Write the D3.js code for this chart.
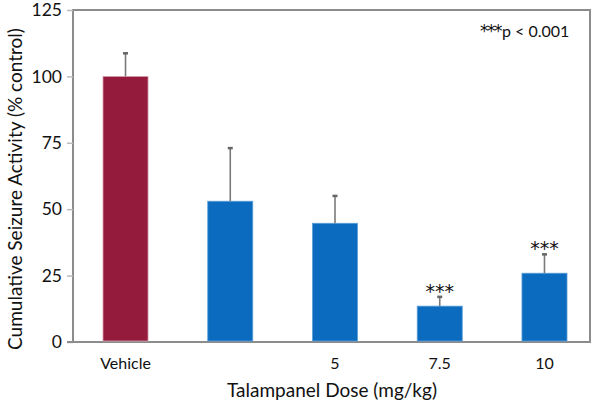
<!DOCTYPE html>
<html><head><meta charset="utf-8">
<script src="https://cdn.jsdelivr.net/npm/d3@7"></script>
<style>body{margin:0;background:#fff}svg{display:block}text{font-family:Lato,"Open Sans",sans-serif;fill:#111}</style>
</head><body><svg id="c" width="601" height="408"></svg>
<script>
const categories = ["Vehicle", "2.5", "5", "7.5", "10"];
const tickLabels = ["Vehicle", "", "5", "7.5", "10"];
const values = [100, 53, 44.7, 13.5, 25.9];
const errors = [8.7, 20, 10.3, 3.5, 7.1];
const significant = [false, false, false, true, true];
const yTicks = [0, 25, 50, 75, 100, 125];
const barColors = ["#951b3d", "#0b6cbf", "#0b6cbf", "#0b6cbf", "#0b6cbf"];

const svg = d3.select("#c");
const L = 73, R = 590, T = 10, B = 342;
const x = d3.scaleBand().domain(categories).range([L, R]).paddingInner(0.57).paddingOuter(0.253).align(0.566);
const y = d3.scaleLinear().domain([0, 125]).range([B, T]);

// frame
svg.append("rect").attr("x", L).attr("y", T).attr("width", R - L).attr("height", B - T)
  .attr("fill", "none").attr("stroke", "#8c8c8c").attr("stroke-width", 2);

// y axis
const ya = svg.append("g").attr("transform", `translate(${L},0)`)
  .call(d3.axisLeft(y).tickValues(yTicks).tickSize(6).tickPadding(5));
ya.select(".domain").remove();
ya.selectAll(".tick line").attr("stroke", "#bbb").attr("stroke-width", 1.5);
ya.selectAll(".tick text").style("font-size", "17.5px").style("font-family", "Lato,sans-serif").attr("fill", "#111");
svg.append("line").attr("x1", L - 6).attr("x2", R).attr("y1", B).attr("y2", B).attr("stroke", "#8c8c8c").attr("stroke-width", 2);

// bars
svg.selectAll(".bar").data(values).join("rect").attr("class", "bar")
  .attr("x", (d, i) => x(categories[i])).attr("width", x.bandwidth())
  .attr("y", d => y(d)).attr("height", d => y(0) - y(d) - 1)
  .attr("fill", (d, i) => barColors[i])
  .attr("stroke", (d, i) => i === 0 ? "#d8a0ae" : "#5d9fd8").attr("stroke-width", 0.8);

// error bars
const cx = i => x(categories[i]) + x.bandwidth() / 2;
const eb = svg.selectAll(".eb").data(values).join("g").attr("class", "eb");
eb.append("line").attr("x1", (d, i) => cx(i)).attr("x2", (d, i) => cx(i))
  .attr("y1", d => y(d)).attr("y2", (d, i) => y(d + errors[i])).attr("stroke", "#7a7a7a").attr("stroke-width", 1.6);
eb.append("line").attr("x1", (d, i) => cx(i) - 2.5).attr("x2", (d, i) => cx(i) + 2.5)
  .attr("y1", (d, i) => y(d + errors[i])).attr("y2", (d, i) => y(d + errors[i])).attr("stroke", "#666").attr("stroke-width", 2.5);

// significance stars
svg.selectAll(".star").data(values.map((v, i) => ({v, i})).filter(d => significant[d.i])).join("text")
  .attr("x", d => cx(d.i)).attr("y", d => y(d.v + errors[d.i]) + 1)
  .attr("text-anchor", "middle").style("font-family", "'DejaVu Sans',sans-serif").style("font-size", "19px")
  .style("letter-spacing", "0px").attr("fill", "#222").text("***");

// x tick labels
svg.selectAll(".xl").data(tickLabels).join("text")
  .attr("x", (d, i) => cx(i)).attr("y", 369)
  .attr("text-anchor", "middle").style("font-size", "16px").text(d => d);

// axis titles
svg.append("text").attr("x", 332).attr("y", 397).attr("text-anchor", "middle").style("font-size", "19px").text("Talampanel Dose (mg/kg)");
svg.append("text").attr("transform", "translate(22,189) rotate(-90)").attr("text-anchor", "middle").style("font-size", "19px").text("Cumulative Seizure Activity (% control)");

// legend note
const note = svg.append("text").attr("x", 480).attr("y", 37).style("font-size", "16px");
note.append("tspan").style("font-family", "'DejaVu Sans',sans-serif").style("font-size", "17px").style("letter-spacing", "-1.5px").text("***");
note.append("tspan").attr("dx", "1").text("p < 0.001");
</script></body></html>
